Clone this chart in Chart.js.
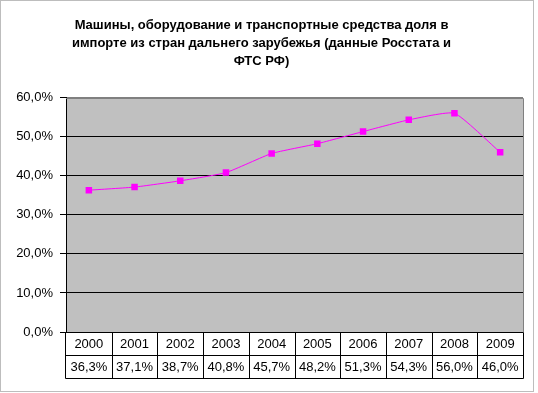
<!DOCTYPE html>
<html>
<head>
<meta charset="utf-8">
<script src="https://cdn.jsdelivr.net/npm/chart.js@4/dist/chart.umd.min.js"></script>
<style>
  body { margin: 0; background: #fff; }
  #wrap { width: 538px; height: 393px; }
</style>
</head>
<body>
<div id="wrap"><canvas id="grafico"></canvas></div>
<script>
// dados
const anos = ["2000", "2001", "2002", "2003", "2004", "2005", "2006", "2007", "2008", "2009"];
const parcela = [36.3, 37.1, 38.7, 40.8, 45.7, 48.2, 51.3, 54.3, 56.0, 46.0];
const titulo = [
    "Машины, оборудование и транспортные средства доля в",
    "импорте из стран дальнего зарубежья (данные Росстата и",
    "ФТС РФ)",
];

const fonte = "'Liberation Sans', Arial, sans-serif";
const pct = (v) => v.toFixed(1).replace(".", ",") + "%";

// fundo cinza + moldura + tabela de dados embaixo
const tabela = {
    id: "tabela",
    beforeDraw(chart) {
        const { ctx, chartArea: a } = chart;
        ctx.save();
        ctx.fillStyle = "#C0C0C0";
        ctx.fillRect(a.left, a.top, a.right - a.left, a.bottom - a.top);
        ctx.restore();
    },
    afterDraw(chart) {
        const { ctx, chartArea: a } = chart;
        const x = chart.scales.x;
        const h = 23;
        ctx.save();
        // moldura externa
        ctx.strokeStyle = "#BDBDBD";
        ctx.lineWidth = 1;
        ctx.strokeRect(0.5, 0.5, 533, 391);
        // borda cinza da área do gráfico (topo e direita)
        ctx.strokeStyle = "#808080";
        ctx.beginPath();
        ctx.moveTo(a.left, Math.round(a.top) + 0.5);
        ctx.lineTo(Math.round(a.right) + 0.5, Math.round(a.top) + 0.5);
        ctx.lineTo(Math.round(a.right) + 0.5, Math.round(a.bottom));
        ctx.stroke();

        // tabela
        const top = Math.round(a.bottom) + 0.5;
        ctx.strokeStyle = "#000";
        ctx.beginPath();
        for (let r = 0; r <= 2; r++) {
            ctx.moveTo(Math.round(a.left) - 0.5, top + r * h);
            ctx.lineTo(Math.round(a.right) + 0.5, top + r * h);
        }
        const bordas = [a.left];
        for (let i = 1; i < anos.length; i++) {
            bordas.push((x.getPixelForValue(i - 1) + x.getPixelForValue(i)) / 2);
        }
        bordas.push(a.right);
        bordas.forEach((bx, i) => {
            const px = Math.round(bx) + (i === 0 ? -0.5 : 0.5);
            ctx.moveTo(px, top);
            ctx.lineTo(px, top + 2 * h);
        });
        ctx.stroke();

        ctx.fillStyle = "#000";
        ctx.font = "13px " + fonte;
        ctx.textAlign = "center";
        ctx.textBaseline = "middle";
        anos.forEach((ano, i) => {
            const cx = x.getPixelForValue(i);
            ctx.fillText(ano, cx, top + h / 2);
            ctx.fillText(pct(parcela[i]), cx, top + h * 1.5);
        });
        ctx.restore();
    },
};

new Chart("grafico", {
    type: "line",
    data: {
        labels: anos,
        datasets: [
            {
                data: parcela,
                borderColor: "#FF00FF",
                backgroundColor: "#FF00FF",
                borderWidth: 1,
                tension: 0.15,
                pointStyle: "rect",
                pointRadius: 4.6,
                pointBorderWidth: 0,
            },
        ],
    },
    options: {
        responsive: true,
        maintainAspectRatio: false,
        animation: false,
        layout: {
            padding: { left: 0, right: 15, top: 0, bottom: 61 },
        },
        plugins: {
            legend: { display: false },
            tooltip: { enabled: false },
            title: {
                display: true,
                text: titulo,
                color: "#000",
                font: { family: fonte, size: 13, weight: "bold", lineHeight: 1.4 },
                padding: { top: 16, bottom: 27 },
            },
        },
        scales: {
            x: {
                type: "category",
                offset: true,
                display: false,
            },
            y: {
                min: 0,
                max: 60,
                afterFit: (scale) => {
                    scale.width = 66;
                },
                ticks: {
                    stepSize: 10,
                    color: "#000",
                    padding: 7,
                    font: { family: fonte, size: 13 },
                    callback: (v) => pct(v),
                },
                grid: {
                    color: (ctx) => (ctx.tick && ctx.tick.value === 60 ? "#808080" : "#000"),
                    tickColor: "#000",
                    tickLength: 6,
                    lineWidth: 1,
                },
                border: { color: "#000", width: 1 },
            },
        },
    },
    plugins: [tabela],
});
</script>
</body>
</html>
